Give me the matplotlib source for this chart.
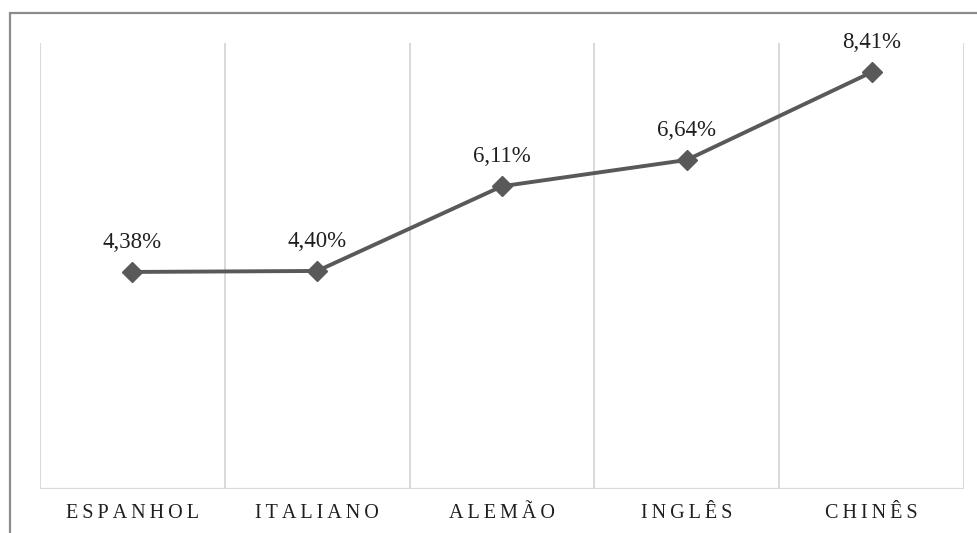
import matplotlib.pyplot as plt
from matplotlib.patches import Rectangle

plt.rcParams.update({'font.family': ['Liberation Serif', 'DejaVu Serif']})

idiomas = ["ESPANHOL", "ITALIANO", "ALEMÃO", "INGLÊS", "CHINÊS"]
percentuais = [4.38, 4.40, 6.11, 6.64, 8.41]

linha_cor = '#595959'
grade_cor = '#d9d9d9'

fig = plt.figure(figsize=(9.78, 5.33), dpi=100)
W, H = 978, 533

# moldura do gráfico (só aparecem as bordas de cima e da esquerda)
fig.patches.append(Rectangle((10 / W, -0.1), 1.2, (H - 13) / H + 0.1,
                             transform=fig.transFigure, fill=False,
                             edgecolor='#8c8c8c', linewidth=1.6))

ax = fig.add_axes([40 / W, (H - 489) / H, (964 - 40) / W, (489 - 43) / H])
x = list(range(len(idiomas)))
ax.plot(x, percentuais, color=linha_cor, linewidth=2.8, marker='D',
        markersize=10, markerfacecolor=linha_cor, markeredgecolor=linha_cor,
        zorder=3)

for xi, v in zip(x, percentuais):
    rotulo = "{:.2f}%".format(v).replace('.', ',')
    ax.annotate(rotulo, (xi, v), xytext=(0, 14), textcoords='offset points',
                ha='center', va='bottom', fontsize=16.5, color='#1f1f1f')

ax.set_xlim(-0.5, len(idiomas) - 0.5)
ax.set_ylim(0, 9)

for b in [i - 0.5 for i in range(len(idiomas) + 1)]:
    ax.axvline(b, color=grade_cor, linewidth=1.4, zorder=1)
ax.axhline(0, color=grade_cor, linewidth=1.6, zorder=1)

for s in ax.spines.values():
    s.set_visible(False)
ax.set_yticks([])
ax.set_xticks(x)
espacado = ['\u2009'.join(nome) for nome in idiomas]
ax.set_xticklabels(espacado, fontsize=14.5, color='#1f1f1f')
ax.tick_params(axis='x', length=0, pad=11)

fig.savefig('out.png', dpi=100)
